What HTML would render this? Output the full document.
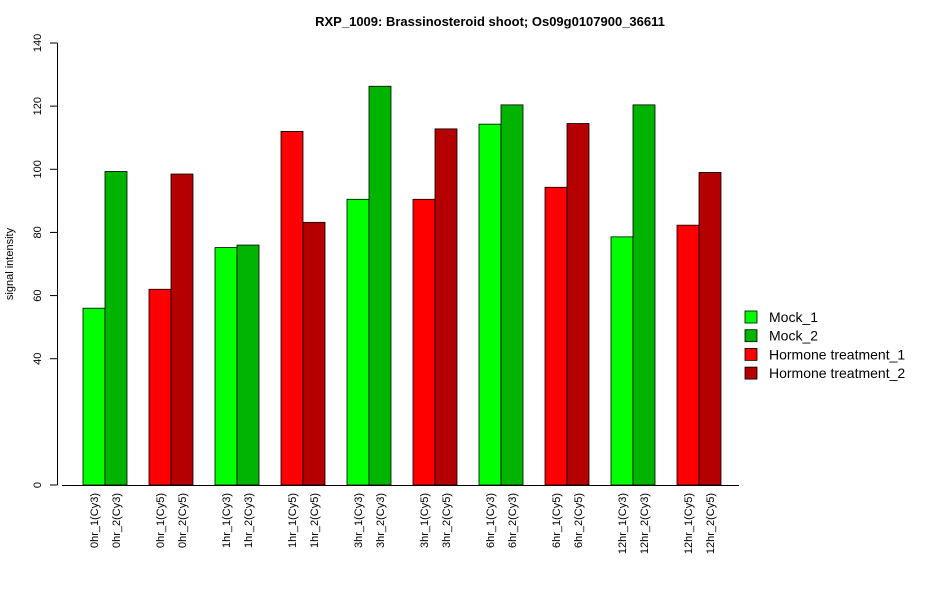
<!DOCTYPE html>
<html><head><meta charset="utf-8"><style>
body{margin:0;background:#fff}
svg text{font-family:"Liberation Sans",sans-serif}
</style></head><body>
<svg id="c" width="950" height="600" xmlns="http://www.w3.org/2000/svg">
<text x="490" y="26" text-anchor="middle" font-size="13" font-weight="bold">RXP_1009: Brassinosteroid shoot; Os09g0107900_36611</text>
<text transform="translate(13,264) rotate(-90)" text-anchor="middle" font-size="11">signal intensity</text>
<g id="bars"></g><g id="axes"></g><g id="legend"></g>
</svg>
<script>
const categories=["0hr_1(Cy3)","0hr_2(Cy3)","0hr_1(Cy5)","0hr_2(Cy5)","1hr_1(Cy3)","1hr_2(Cy3)","1hr_1(Cy5)","1hr_2(Cy5)","3hr_1(Cy3)","3hr_2(Cy3)","3hr_1(Cy5)","3hr_2(Cy5)","6hr_1(Cy3)","6hr_2(Cy3)","6hr_1(Cy5)","6hr_2(Cy5)","12hr_1(Cy3)","12hr_2(Cy3)","12hr_1(Cy5)","12hr_2(Cy5)"];
const values=[56,99.3,62,98.5,75.2,76,112,83.2,90.5,126.3,90.5,112.8,114.3,120.4,94.3,114.5,78.6,120.4,82.3,99];
const groups=[0,1,2,3,0,1,2,3,0,1,2,3,0,1,2,3,0,1,2,3];
const seriesNames=["Mock_1","Mock_2","Hormone treatment_1","Hormone treatment_2"];
const seriesColors=["#00ff00","#00b400","#ff0000","#b40000"];
const yTicks=[0,40,60,80,100,120,140];
const NS="http://www.w3.org/2000/svg";
const y0=485,yTop=43,yMax=140;
const y=v=>y0-(v/yMax)*(y0-yTop);
const bw=22;
const x=i=>83+Math.floor(i/2)*66+(i%2)*bw;
function mk(t,a,p){const e=document.createElementNS(NS,t);for(const k in a)e.setAttribute(k,a[k]);p.appendChild(e);return e;}
const B=document.getElementById('bars'),A=document.getElementById('axes'),L=document.getElementById('legend');
values.forEach((v,i)=>{
 const r=mk('rect',{x:x(i),y:y(v),width:bw,height:y0-y(v),fill:seriesColors[groups[i]],stroke:'#000','stroke-width':0.8},B);
 
 
 const t=mk('text',{transform:`translate(${x(i)+bw/2+4},${y0+8}) rotate(-90)`,'text-anchor':'end','font-size':'11'},A);
 t.textContent=categories[i];
 
 
});
mk('line',{x1:62,x2:739,y1:y0+0.5,y2:y0+0.5,stroke:'#000'},A);
mk('line',{x1:57.5,x2:57.5,y1:yTop,y2:y0,stroke:'#000'},A);
yTicks.forEach(v=>{
 mk('line',{x1:50,x2:57.5,y1:y(v),y2:y(v),stroke:'#000'},A);
 const t=mk('text',{transform:`translate(41,${y(v)}) rotate(-90)`,'text-anchor':'middle','font-size':'11'},A);
 t.textContent=v;
 
 
});
seriesNames.forEach((n,i)=>{
 const g=mk('g',{},L);
 
 
 const yy=317+i*18.7;
 mk('rect',{x:745,y:yy-6,width:12,height:12,fill:seriesColors[i],stroke:'#000','stroke-width':0.8},g);
 const t=mk('text',{x:769,y:yy+5,'font-size':'14'},g);
 t.textContent=n;
});
</script>
</body></html>
